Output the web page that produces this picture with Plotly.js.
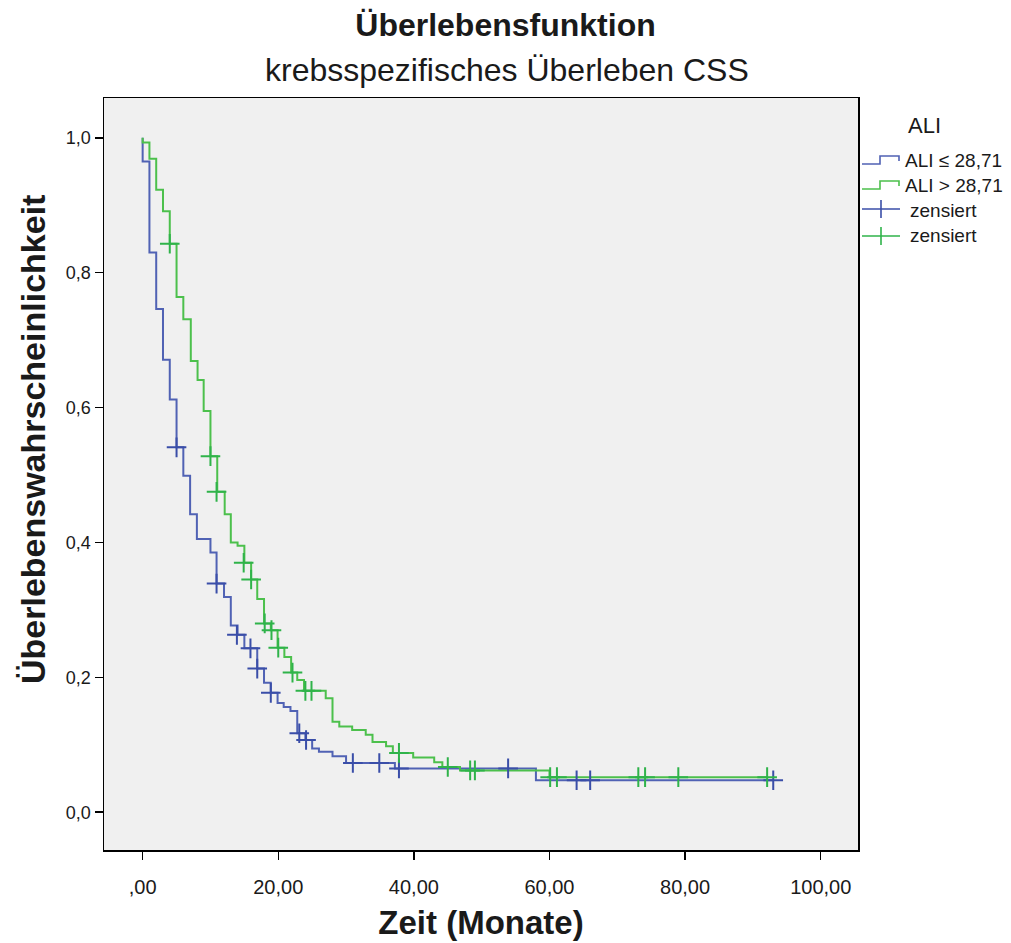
<!DOCTYPE html>
<html>
<head>
<meta charset="utf-8">
<script src="https://cdn.plot.ly/plotly-3.0.1.min.js"></script>
<style>html,body{margin:0;padding:0;background:#fff;}#chart{width:1011px;height:943px;}</style>
</head>
<body>
<div id="chart"></div>
<script>
// ---- Data ----
// Group 1: ALI ≤ 28,71 — step curve (time in months, survival)
const lowTime = [0, 0, 1.0, 2.0, 3.0, 4.0, 5.0, 6.0, 7.0, 8.0, 10.0, 10.9, 12.0, 13.0, 14.0, 15.0, 16.9, 17.9, 18.9, 19.9, 20.8, 21.8, 22.8, 24.0, 25.0, 26.0, 28.0, 30.0, 37.2, 58.0, 93.0];
const lowSurv = [1.0, 0.965, 0.830, 0.746, 0.671, 0.612, 0.541, 0.499, 0.442, 0.405, 0.385, 0.339, 0.319, 0.277, 0.263, 0.243, 0.213, 0.192, 0.177, 0.162, 0.156, 0.150, 0.117, 0.107, 0.0945, 0.0895, 0.083, 0.073, 0.065, 0.0475, 0.0475];
const lowCensTime = [5.0, 10.9, 13.9, 15.9, 16.9, 18.9, 23.1, 24.1, 31.0, 34.9, 37.8, 53.9, 64.0, 66.0, 93.0];
const lowCensSurv = [0.541, 0.339, 0.263, 0.243, 0.213, 0.177, 0.117, 0.107, 0.073, 0.073, 0.065, 0.065, 0.0475, 0.0475, 0.0475];

// Group 2: ALI > 28,71
const highTime = [0, 0, 1.0, 2.0, 3.0, 4.0, 5.0, 6.0, 7.1, 8.1, 9.0, 10.0, 11.0, 12.1, 13.0, 14.0, 15.0, 16.0, 16.9, 17.9, 18.9, 19.9, 20.9, 21.9, 22.8, 23.8, 27.0, 28.0, 29.0, 30.9, 32.9, 33.9, 35.9, 36.9, 39.9, 43.0, 44.2, 46.8, 60.0, 92.1];
const highSurv = [1.0, 0.993, 0.969, 0.923, 0.891, 0.843, 0.764, 0.731, 0.669, 0.641, 0.595, 0.528, 0.475, 0.442, 0.400, 0.395, 0.370, 0.345, 0.316, 0.280, 0.270, 0.244, 0.230, 0.207, 0.196, 0.180, 0.169, 0.134, 0.127, 0.122, 0.115, 0.104, 0.098, 0.088, 0.081, 0.074, 0.067, 0.062, 0.052, 0.052];
const highCensTime = [4.0, 10.0, 10.9, 14.9, 16.0, 18.0, 19.0, 20.0, 22.1, 24.0, 24.9, 37.8, 45.0, 48.3, 49.0, 60.1, 61.1, 73.1, 74.1, 79.0, 92.1];
const highCensSurv = [0.843, 0.528, 0.475, 0.370, 0.345, 0.280, 0.270, 0.244, 0.207, 0.180, 0.180, 0.088, 0.067, 0.062, 0.062, 0.052, 0.052, 0.052, 0.052, 0.052, 0.052];

const xTickVals = [0, 20, 40, 60, 80, 100];
const xTickText = [",00", "20,00", "40,00", "60,00", "80,00", "100,00"];
const yTickVals = [0, 0.2, 0.4, 0.6, 0.8, 1.0];
const yTickText = ["0,0", "0,2", "0,4", "0,6", "0,8", "1,0"];

const groupNames = ["ALI ≤ 28,71", "ALI > 28,71"];
const censLabel = "zensiert";
const legendTitle = "ALI";

// ---- Styling ----
const BLUE = "#5062b4", BLUE_C = "#3a4ea8";
const GREEN = "#4cc04c", GREEN_C = "#2fb34a";
const W = 1011, H = 943;
const L = 104, R = 858, T = 98, B = 850;
const px = x => (x - L) / (R - L);
const py = y => (B - y) / (B - T);

const traces = [
  {x: lowTime, y: lowSurv, type: "scatter", mode: "lines", line: {shape: "hv", color: BLUE, width: 2}, name: groupNames[0], showlegend: false, hoverinfo: "x+y"},
  {x: highTime, y: highSurv, type: "scatter", mode: "lines", line: {shape: "hv", color: GREEN, width: 2}, name: groupNames[1], showlegend: false, hoverinfo: "x+y"},
  {x: lowCensTime, y: lowCensSurv, type: "scatter", mode: "markers", marker: {symbol: "cross-thin", size: 14, line: {color: BLUE_C, width: 2}}, name: censLabel, showlegend: false},
  {x: highCensTime, y: highCensSurv, type: "scatter", mode: "markers", marker: {symbol: "cross-thin", size: 14, line: {color: GREEN_C, width: 2}}, name: censLabel, showlegend: false}
];

function pathStr(pts) {
  return pts.map((p, i) => (i ? "L" : "M") + px(p[0]).toFixed(5) + "," + py(p[1]).toFixed(5)).join(" ");
}

const shapes = [
  {type: "path", xref: "paper", yref: "paper", path: pathStr([[862,164],[880,164],[880,156],[899,156],[899,161]]), line: {color: BLUE, width: 1.6}},
  {type: "path", xref: "paper", yref: "paper", path: pathStr([[862,189],[880,189],[880,181],[899,181],[899,186]]), line: {color: GREEN, width: 1.6}},
  {type: "line", xref: "paper", yref: "paper", x0: px(862), x1: px(900), y0: py(209), y1: py(209), line: {color: BLUE_C, width: 1.6}},
  {type: "line", xref: "paper", yref: "paper", x0: px(881), x1: px(881), y0: py(200), y1: py(218), line: {color: BLUE_C, width: 1.6}},
  {type: "line", xref: "paper", yref: "paper", x0: px(862), x1: px(900), y0: py(236), y1: py(236), line: {color: GREEN_C, width: 1.6}},
  {type: "line", xref: "paper", yref: "paper", x0: px(881), x1: px(881), y0: py(227), y1: py(245), line: {color: GREEN_C, width: 1.6}}
];

const FONT = "Liberation Sans, Arial, sans-serif";
const TXT = "#1a1a1a";
const annotations = [
  {xref: "paper", yref: "paper", x: px(507), y: py(70), text: "krebsspezifisches Überleben CSS", showarrow: false, xanchor: "center", yanchor: "middle", font: {family: FONT, size: 32, color: TXT}},
  {xref: "paper", yref: "paper", x: px(33), y: py(440), text: "<b>Überlebenswahrscheinlichkeit</b>", textangle: -90, showarrow: false, xanchor: "center", yanchor: "middle", font: {family: FONT, size: 34, color: TXT}},
  {xref: "paper", yref: "paper", x: px(906), y: py(125), text: legendTitle, showarrow: false, xanchor: "left", yanchor: "middle", font: {family: FONT, size: 22, color: TXT}},
  {xref: "paper", yref: "paper", x: px(903), y: py(160), text: groupNames[0], showarrow: false, xanchor: "left", yanchor: "middle", font: {family: FONT, size: 19, color: TXT}},
  {xref: "paper", yref: "paper", x: px(903), y: py(185), text: groupNames[1], showarrow: false, xanchor: "left", yanchor: "middle", font: {family: FONT, size: 19, color: TXT}},
  {xref: "paper", yref: "paper", x: px(908), y: py(210), text: censLabel, showarrow: false, xanchor: "left", yanchor: "middle", font: {family: FONT, size: 19, color: TXT}},
  {xref: "paper", yref: "paper", x: px(908), y: py(236), text: censLabel, showarrow: false, xanchor: "left", yanchor: "middle", font: {family: FONT, size: 19, color: TXT}}
];

const layout = {
  width: W, height: H,
  margin: {l: L, r: W - R, t: T, b: H - B, pad: 0},
  paper_bgcolor: "#ffffff",
  plot_bgcolor: "#f0f0f0",
  showlegend: false,
  title: {text: "<b>Überlebensfunktion</b>", x: 0.5, xref: "container", xanchor: "center", y: 1 - 25 / H, yref: "container", yanchor: "middle", font: {family: FONT, size: 32, color: TXT}},
  xaxis: {
    range: [-5.7, 105.5], tickvals: xTickVals, ticktext: xTickText,
    ticks: "outside", ticklen: 8, tickwidth: 1.5, tickcolor: "#000",
    showline: true, mirror: true, linecolor: "#000", linewidth: 1.5,
    showgrid: false, zeroline: false, ticklabelstandoff: 10,
    tickfont: {family: FONT, size: 20, color: TXT},
    title: {text: "<b>Zeit (Monate)</b>", standoff: 14, font: {family: FONT, size: 33, color: TXT}}
  },
  yaxis: {
    range: [-0.056, 1.059], tickvals: yTickVals, ticktext: yTickText,
    ticks: "outside", ticklen: 8, tickwidth: 1.5, tickcolor: "#000",
    showline: true, mirror: true, linecolor: "#000", linewidth: 1.5,
    showgrid: false, zeroline: false,
    tickfont: {family: FONT, size: 18, color: TXT}
  },
  shapes: shapes,
  annotations: annotations
};

Plotly.newPlot("chart", traces, layout, {displayModeBar: false, staticPlot: true});
</script>
</body>
</html>
